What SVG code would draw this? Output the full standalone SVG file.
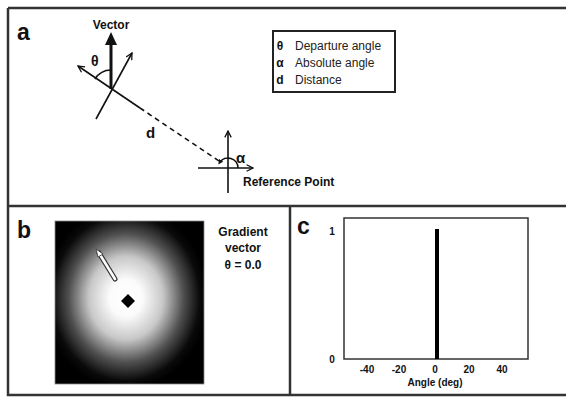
<svg xmlns="http://www.w3.org/2000/svg" width="566" height="397" viewBox="0 0 566 397">
<style>
.frame{fill:none;stroke:#333;stroke-width:2.5}
.ln{fill:none;stroke:#111;stroke-width:1.6}
.bold{font-family:"Liberation Sans",Arial,sans-serif;font-weight:bold;fill:#111}
.reg{font-family:"Liberation Sans",Arial,sans-serif;fill:#222}
.panel{font-family:"Liberation Sans",Arial,sans-serif;font-weight:bold;font-size:23px;fill:#111}
</style>
<defs>
<marker id="open" viewBox="0 0 10 10" refX="9" refY="5" markerWidth="8" markerHeight="8" markerUnits="userSpaceOnUse" orient="auto">
<path d="M1,1 L9,5 L1,9" fill="none" stroke="#111" stroke-width="1.6"/>
</marker>
<marker id="small" viewBox="0 0 10 10" refX="5" refY="5" markerWidth="5" markerHeight="5" markerUnits="userSpaceOnUse" orient="auto">
<path d="M0,0 L10,5 L0,10 z" fill="#111"/>
</marker>
<radialGradient id="glow" gradientUnits="userSpaceOnUse" cx="126" cy="298" r="82" gradientTransform="translate(126 298) scale(1 1.12) translate(-126 -298)">
<stop offset="0" stop-color="#fff"/>
<stop offset="0.2" stop-color="#fbfbfb"/>
<stop offset="0.45" stop-color="#c8c8c8"/>
<stop offset="0.7" stop-color="#505050"/>
<stop offset="0.9" stop-color="#0a0a0a"/>
<stop offset="1" stop-color="#000"/>
</radialGradient>
</defs>
<rect width="566" height="397" fill="#fff"/>

<g id="frame">
<path class="frame" d="M8,8 H568 M8,8 V395 H568 M8,206 H568 M290,206 V395"/>
</g>

<g id="panel-a">
<text class="panel" x="17" y="40">a</text>
<g id="vector">
<line x1="111" y1="89" x2="111" y2="42" stroke="#111" stroke-width="3"/>
<polygon points="111,32 105,45 117,45" fill="#111"/>
<text class="bold" x="111" y="29" font-size="12" text-anchor="middle">Vector</text>
<text class="bold" x="91" y="66" font-size="14">θ</text>
<path class="ln" d="M95,79 A19,19 0 0 1 111,70"/>
</g>
<g id="connectors">
<line class="ln" x1="140" y1="108" x2="78" y2="66" marker-end="url(#open)"/>
<line class="ln" x1="96" y1="119" x2="132" y2="53" marker-end="url(#open)"/>
<line class="ln" x1="140" y1="108" x2="219" y2="161" stroke-dasharray="5,4"/>
</g>
<text class="bold" x="146" y="138" font-size="15">d</text>
<g id="reference-point">
<line class="ln" x1="198" y1="168" x2="253" y2="168" marker-end="url(#open)"/>
<line class="ln" x1="228" y1="193" x2="228" y2="131" marker-end="url(#open)"/>
<path class="ln" d="M238,168 A10,10 0 0 0 219.7,162.4" marker-end="url(#small)"/>
<text class="bold" x="236" y="163" font-size="15">α</text>
<text class="bold" x="243" y="186" font-size="12">Reference Point</text>
</g>
<g id="legend">
<rect x="273" y="31" width="122" height="61" fill="#fff" stroke="#222" stroke-width="2"/>
<text class="bold" x="280" y="50" font-size="12" text-anchor="middle">θ</text>
<text class="bold" x="280" y="67" font-size="12" text-anchor="middle">α</text>
<text class="bold" x="280" y="84" font-size="12" text-anchor="middle">d</text>
<text class="reg" x="295" y="50" font-size="12">Departure angle</text>
<text class="reg" x="295" y="67" font-size="12">Absolute angle</text>
<text class="reg" x="295" y="84" font-size="12">Distance</text>
</g>
</g>

<g id="panel-b">
<text class="panel" x="17" y="238">b</text>
<rect x="55" y="221" width="149" height="163" fill="url(#glow)" stroke="#888" stroke-width="0.8"/>
<polygon points="128,294 135,301 128,308 121,301" fill="#000"/>
<g id="gradient-arrow">
<line x1="115" y1="279" x2="99" y2="253" stroke="#333" stroke-width="5" stroke-linecap="round"/>
<line x1="115" y1="279" x2="99" y2="253" stroke="#fff" stroke-width="2.6" stroke-linecap="round"/>
<polygon points="96,249 103,254 98,257" fill="#fff" stroke="#333" stroke-width="0.8"/>
</g>
<text class="bold" font-size="12" text-anchor="middle"><tspan x="243" y="236">Gradient</tspan><tspan x="243" y="252">vector</tspan><tspan x="243" y="269">θ = 0.0</tspan></text>
</g>

<g id="panel-c">
<text class="panel" x="297" y="234">c</text>
<rect x="344" y="218" width="184" height="141" fill="#fff" stroke="#333" stroke-width="1.5"/>
<line x1="437" y1="229" x2="437" y2="359" stroke="#000" stroke-width="4"/>
<g class="bold" font-size="10" text-anchor="middle">
<text x="332" y="235">1</text>
<text x="332" y="363">0</text>
<text x="367" y="373">-40</text>
<text x="399" y="373">-20</text>
<text x="435" y="373">0</text>
<text x="469" y="373">20</text>
<text x="502" y="373">40</text>
<text x="435" y="386">Angle (deg)</text>
</g>
</g>
</svg>
